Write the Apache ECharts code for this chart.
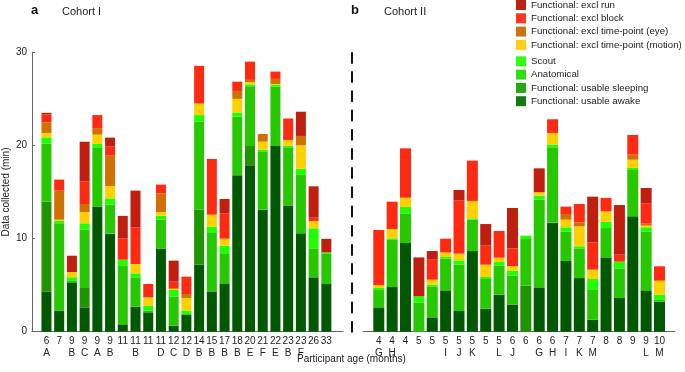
<!DOCTYPE html>
<html>
<head>
<meta charset="utf-8">
<script src="https://cdn.jsdelivr.net/npm/echarts@6/dist/echarts.min.js"></script>
<style>
html,body{margin:0;padding:0;background:#fff;}
#chart{width:685px;height:372px;}
</style>
</head>
<body>
<div id="chart"></div>
<script>
// ---- Cohort I ----
var ageLeft    = ['6','7','9','9','9','9','11','11','11','11','12','12','14','15','17','18','20','21','22','23','23','26','33'];
var idLeft     = ['A','','B','C','A','B','','B','','D','C','D','B','B','B','B','E','F','E','B','F','',''];
var awakeL     = [4.33,2.26,5.30,2.61,13.43,10.53,0.79,2.69,2.08,8.92,0.64,1.80,7.20,4.33,5.19,16.79,17.87,13.10,19.94,13.50,10.56,5.84,5.12];
var sleepL     = [9.63,0,0,2.08,0,0,0,0,0,0,0,0,5.90,0,0,0,2.07,0,0,0,0,0,0];
var anatL      = [6.23,9.38,0.15,6.27,6.30,3.11,6.26,3.15,0.20,3.11,3.12,0.10,9.46,6.27,3.15,6.30,6.41,6.27,6.36,6.30,6.27,3.11,3.29];
var scoutL     = [0.68,0.25,0.40,0.68,0.43,0.68,0.68,0.43,0.48,0.43,0.72,0.36,0.70,0.68,0.90,0.45,0.20,0.18,0.20,0.18,0.68,2.15,0.11];
var motionL    = [0.47,0.14,0.56,1.21,1.00,1.33,0,1.00,0.93,0.39,0.14,1.36,1.25,1.29,0.75,1.46,0.25,0.86,0.10,0.61,2.50,0.79,0];
var eyeL       = [1.14,3.11,0,0.86,0.64,3.25,0,0,0,2.01,0,0.43,0,0,0,0.85,0.24,0.82,0.54,0,1.01,0,0];
var blockL     = [0.86,1.19,0,2.44,1.46,0.97,2.26,3.94,1.43,0.93,0.75,1.86,4.04,5.98,2.72,1.00,1.96,0,0.79,2.30,0,0.35,0];
var runL       = [0.16,0,1.75,4.25,0,0.97,2.45,3.94,0,0,2.26,0,0,0,1.54,0,0,0,0,0,2.60,3.37,1.45];

// ---- Cohort II ----
var ageRight   = ['4','4','4','5','5','5','5','5','5','5','6','6','6','6','7','7','7','8','8','9','9','10'];
var idRight    = ['G','H','','','','I','J','K','','L','J','','G','H','I','K','M','','','','L','M'];
var awakeR     = [2.61,4.80,9.52,0,1.54,4.44,2.22,8.66,2.47,3.97,2.90,0,4.76,11.71,7.59,5.76,1.29,7.98,3.62,12.39,4.44,3.22];
var sleepR     = [0,0,0,0,0,0,0,0,0,0,0,4.94,0,0,0,0,0,0,0,0,0,0];
var anatR      = [1.87,5.12,3.19,3.11,3.33,3.40,4.98,3.37,3.19,3.12,3.11,5.01,9.42,8.09,3.15,3.19,3.19,3.15,3.18,4.97,6.30,0.20];
var scoutR     = [0.21,0.10,0.68,0.69,0.18,0.18,0.46,0.14,0.21,0.39,0.54,0.36,0.43,0.30,0.47,0.22,1.18,0.69,0.72,0.22,0.47,0.55];
var motionR    = [0.32,1.01,1.00,0,0.54,0.50,0.72,1.87,1.33,0.47,0.50,0,0.36,1.24,0.82,2.14,1.00,1.11,0,0.89,0.18,1.51];
var eyeR       = [0,0,0,0,0,0,0,0,0,0,0,0,0,0,0.61,0.43,0,0,0,0.54,0.25,0];
var blockR     = [5.91,2.93,5.30,0,2.14,1.47,5.69,4.33,2.04,2.86,1.90,0,0,1.47,0.79,1.97,2.94,1.43,0.75,2.11,2.11,1.54];
var runR       = [0,0,0,4.18,0.93,0,1.15,0,2.32,0,4.33,0,2.57,0,0,0,4.90,0,5.33,0,1.68,0];

var yTicks = {min: 0, max: 30, interval: 10};

var names = ['Functional: usable awake','Functional: usable sleeping','Anatomical','Scout',
             'Functional: excl time-point (motion)','Functional: excl time-point (eye)',
             'Functional: excl block','Functional: excl run'];
var colors = ['#005800','#1f9500','#27c800','#1fff00','#ffd000','#d07000','#ff2a12','#c01f10'];

var leftSets  = [awakeL, sleepL, anatL, scoutL, motionL, eyeL, blockL, runL];
var rightSets = [awakeR, sleepR, anatR, scoutR, motionR, eyeR, blockR, runR];

function cats(ages, ids){ return ages.map(function(a,i){ return a + '\n' + (ids[i] || ' '); }); }

var TOP = 52.3, H = 279.4;
var FF = 'Liberation Sans, Arial, sans-serif';
var series = [];
names.forEach(function(n, k){
  series.push({type:'bar', name:n, stack:'L', xAxisIndex:1, yAxisIndex:1, data:leftSets[k],
    barWidth:10, itemStyle:{color:colors[k]}, emphasis:{disabled:true}, animation:false});
});
names.forEach(function(n, k){
  series.push({type:'bar', name:n, stack:'R', xAxisIndex:4, yAxisIndex:4, data:rightSets[k],
    barWidth:11, itemStyle:{color:colors[k]}, emphasis:{disabled:true}, animation:false});
});

var legendSwatch = {
  'Functional: usable awake':'#157a12', 'Functional: usable sleeping':'#22aa11',
  'Anatomical':'#30dd10', 'Scout':'#30ff10',
  'Functional: excl time-point (motion)':'#ffd010', 'Functional: excl time-point (eye)':'#cc7510',
  'Functional: excl block':'#ff3320', 'Functional: excl run':'#bb2211'
};
function legData(list){ return list.map(function(n){ return {name:n, itemStyle:{color:legendSwatch[n]}}; }); }

var option = {
  backgroundColor:'#fff',
  animation:false,
  textStyle: {fontFamily:FF},
  title:[
    {text:'a', left:31, top:4, padding:0, textStyle:{fontFamily:FF, fontSize:13, fontWeight:'bold', color:'#111'}},
    {text:'Cohort I', left:62, top:6, padding:0, textStyle:{fontFamily:FF, fontSize:11, fontWeight:'normal', color:'#222'}},
    {text:'b', left:351, top:4, padding:0, textStyle:{fontFamily:FF, fontSize:13, fontWeight:'bold', color:'#111'}},
    {text:'Cohort II', left:384, top:6, padding:0, textStyle:{fontFamily:FF, fontSize:11, fontWeight:'normal', color:'#222'}},
    {text:'Participant age (months)', left:297, top:354, padding:0, textStyle:{fontFamily:FF, fontSize:10, fontWeight:'normal', color:'#222'}}
  ],
  legend:[
    {orient:'vertical', left:516, top:0, padding:0, itemWidth:10, itemHeight:10, itemGap:3.3, icon:'rect',
     selectedMode:false, textStyle:{fontFamily:FF, fontSize:9.7, color:'#222', lineHeight:10},
     data:legData(['Functional: excl run','Functional: excl block','Functional: excl time-point (eye)','Functional: excl time-point (motion)'])},
    {orient:'vertical', left:516, top:56.3, padding:0, itemWidth:10, itemHeight:10, itemGap:3.3, icon:'rect',
     selectedMode:false, textStyle:{fontFamily:FF, fontSize:9.7, color:'#222', lineHeight:10},
     data:legData(['Scout','Anatomical','Functional: usable sleeping','Functional: usable awake'])}
  ],
  grid:[
    {left:31, top:TOP, width:312, height:H},
    {left:40.1, top:TOP, width:292.6, height:H},
    {left:352, top:TOP, width:1, height:H},
    {left:363, top:TOP, width:312, height:H},
    {left:372.1, top:TOP, width:294.1, height:H}
  ],
  xAxis:[
    {gridIndex:0, type:'value', min:0, max:1, axisLine:{show:true, lineStyle:{color:'#666', width:1}},
     axisTick:{show:false}, axisLabel:{show:false}, splitLine:{show:false}},
    {gridIndex:1, type:'category', data:cats(ageLeft, idLeft), axisLine:{show:false}, axisTick:{show:false},
     axisLabel:{interval:0, fontSize:10, lineHeight:12, margin:4, color:'#222', fontFamily:FF}},
    {gridIndex:2, type:'value', show:false, min:0, max:1},
    {gridIndex:3, type:'value', min:0, max:1, axisLine:{show:true, lineStyle:{color:'#666', width:1}},
     axisTick:{show:false}, axisLabel:{show:false}, splitLine:{show:false}},
    {gridIndex:4, type:'category', data:cats(ageRight, idRight), axisLine:{show:false}, axisTick:{show:false},
     axisLabel:{interval:0, fontSize:10, lineHeight:12, margin:4, color:'#222', fontFamily:FF}}
  ],
  yAxis:[
    {gridIndex:0, type:'value', min:yTicks.min, max:yTicks.max, interval:yTicks.interval,
     axisLine:{show:true, lineStyle:{color:'#666', width:1}},
     axisTick:{show:true, inside:true, length:3, lineStyle:{color:'#666'}},
     axisLabel:{fontSize:10, color:'#222', margin:5, fontFamily:FF},
     splitLine:{show:false},
     name:'Data collected (min)', nameLocation:'middle', nameGap:21,
     nameTextStyle:{fontSize:10, color:'#222', fontFamily:FF}},
    {gridIndex:1, type:'value', show:false, min:yTicks.min, max:yTicks.max},
    {gridIndex:2, type:'value', min:yTicks.min, max:yTicks.max,
     axisLine:{show:true, lineStyle:{color:'#111', width:2, type:[10,9.2]}},
     axisTick:{show:false}, axisLabel:{show:false}, splitLine:{show:false}},
    {gridIndex:3, type:'value', show:false, min:yTicks.min, max:yTicks.max},
    {gridIndex:4, type:'value', show:false, min:yTicks.min, max:yTicks.max}
  ],
  series:series
};

var chart = echarts.init(document.getElementById('chart'), null, {renderer:'canvas'});
chart.setOption(option);
</script>
</body>
</html>
